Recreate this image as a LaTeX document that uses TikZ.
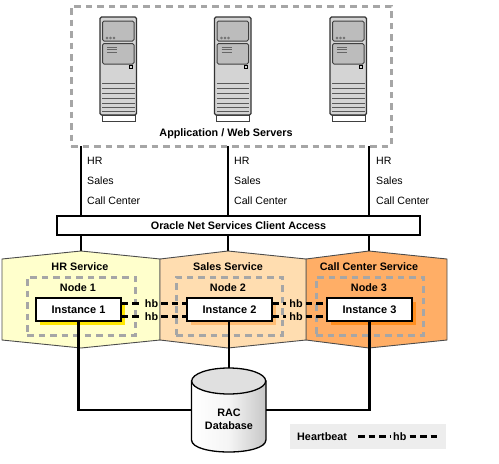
\documentclass[tikz,border=0pt]{standalone}
\usepackage{fontspec}
\setmainfont{Liberation Sans}
\definecolor{hrfill}{HTML}{FFFFCC}
\definecolor{salesfill}{HTML}{FFDDB0}
\definecolor{callfill}{HTML}{FFAE66}
\definecolor{dashgray}{HTML}{A6A6A6}
\definecolor{srvgray}{HTML}{D4D4D4}
\definecolor{srvdark}{HTML}{BCBCBC}
\definecolor{legendfill}{HTML}{EDEDED}
\tikzset{
 x=1pt,y=-1pt,
 label text/.style={font=\bfseries\fontsize{10.8}{12}\selectfont,inner sep=0pt,text=black},
 plain text/.style={font=\fontsize{10.6}{12}\selectfont,inner sep=0pt,anchor=west,text=black},
 service/.style={draw=black!70,line width=0.9pt},
 dashbox/.style={draw=dashgray,line width=3pt,dash pattern=on 6.5pt off 5pt,inner sep=0pt},
 instance/.style={draw=black,line width=1.5pt,fill=white,minimum width=85pt,minimum height=23pt,inner sep=0pt,font=\bfseries\fontsize{11}{12}\selectfont},
 conn/.style={draw=black,line width=2.2pt},
 hbline/.style={draw=black,line width=2.3pt,dash pattern=on 6.5pt off 4pt},
 hb text/.style={label text,inner sep=3pt},
 srvline/.style={draw=black!65,line width=1pt},
 pics/server/.style={code={
  \draw[draw=black!75,line width=1pt,fill=white] (2,115) rectangle (35,121);
  \draw[draw=black!80,line width=1.2pt,fill=srvgray,rounded corners=1.5pt] (0,17) rectangle (36.5,115);
  \draw[draw=black!75,line width=1pt,fill=srvdark,rounded corners=1.5pt] (2.5,21) rectangle (34,41);
  \draw[draw=black!75,line width=1pt,fill=srvdark,rounded corners=1.5pt] (2.5,43.5) rectangle (34,64);
  \foreach \cx in {7,10.5,14}{\draw[draw=black!60,line width=0.6pt] (\cx,38) circle (1pt);}
  \foreach \ly in {47,49.5,52}{\draw[black!60,line width=0.9pt] (7,\ly) -- (17,\ly);}
  \draw[draw=black,line width=1pt,fill=srvgray] (29.5,65.5) rectangle (32.5,68.5);
  \foreach \ly in {83,88,93,98,103,107,111}{\draw[srvline] (2,\ly) -- (34.5,\ly);}
 }}
}
\begin{document}
\begin{tikzpicture}
\useasboundingbox (0,0) rectangle (499,464);
% application tier
\node[dashbox,minimum width=320pt,minimum height=140pt] (app) at (231,76) {};
\foreach \sx in {100,214.5,330}{\pic at (\sx,0) {server};}
\node[label text] (applabel) at (226,134) {Application / Web Servers};
% anchors for the client connections
\coordinate (t1) at (81,146);
\coordinate (t2) at (228,146);
\coordinate (t3) at (369,146);
\coordinate (s1) at (81,251);
\coordinate (s2) at (228,251);
\coordinate (s3) at (369,251);
\draw[conn] (t1) -- (s1);
\draw[conn] (t2) -- (s2);
\draw[conn] (t3) -- (s3);
\foreach \nm/\tx in {a/87,b/234,c/376}{
 \node[plain text] (hr\nm) at (\tx,161) {HR};
 \node[plain text] (sales\nm) at (\tx,181) {Sales};
 \node[plain text] (call\nm) at (\tx,201) {Call Center};
}
\node[draw=black,line width=1.3pt,fill=white,minimum width=363pt,minimum height=19pt,inner sep=0pt,font=\bfseries\fontsize{10.8}{12}\selectfont] (net) at (238.5,225.5) {Oracle Net Services Client Access};
% services
\draw[service,fill=hrfill] (2,259) -- (s1) -- (160,259) -- (160,340) -- (81,348) -- (2,340) -- cycle;
\draw[service,fill=callfill] (306,259) -- (s3) -- (447,259) -- (447,340) -- (369,348) -- (306,340) -- cycle;
\draw[service,fill=salesfill] (160,259) -- (s2) -- (306,259) -- (306,340) -- (228,348) -- (160,340) -- cycle;
\node[label text] (hrservice) at (80,267) {HR Service};
\node[label text] (salesservice) at (228,267) {Sales Service};
\node[label text] (callservice) at (369,267) {Call Center Service};
% nodes
\node[dashbox,minimum width=108pt,minimum height=58pt] (n1) at (81,306) {};
\node[dashbox,minimum width=106pt,minimum height=58pt] (n2) at (229,306) {};
\node[dashbox,minimum width=107pt,minimum height=58pt] (n3) at (369.5,306) {};
\node[label text] (n1l) at (78,288) {Node 1};
\node[label text] (n2l) at (228,288) {Node 2};
\node[label text] (n3l) at (369,288) {Node 3};
% instance shadows
\fill[yellow!90!orange] (40,302) rectangle (125,325);
\fill[orange!35!salesfill] (191,302) rectangle (276,325);
\fill[orange!70!callfill] (331,302) rectangle (416,325);
% instances
\node[instance] (i1) at (78.5,309.5) {Instance 1};
\node[instance] (i2) at (229.5,309.5) {Instance 2};
\node[instance] (i3) at (369.5,309.5) {Instance 3};
% database anchor
\node[minimum width=74pt,minimum height=84pt,inner sep=0pt] (db) at (228.7,410) {};
\draw[conn] (i2.south -| db.north) -- (db.north);
\draw[conn] (i1.south) |- (db.west);
\draw[conn] (i3.south) |- (db.east);
% database
\draw[draw=black,line width=1.3pt,left color=white,right color=black!22,middle color=black!4]
 (db.west |- 0,381) -- (db.west |- 0,440) .. controls (192,456) and (265.5,456) .. (db.east |- 0,440) -- (db.east |- 0,381) -- cycle;
\draw[draw=black,line width=1.3pt,fill=black!12] (db.north |- 0,381) ellipse [x radius=37,y radius=13];
\node[label text,align=center,font=\bfseries\fontsize{10.8}{12.5}\selectfont] (dbl) at (229,419.5) {RAC\\Database};
% heartbeat
\node[hb text] (hb1) at (151.5,303.5) {hb};
\node[hb text] (hb2) at (151.5,316.5) {hb};
\node[hb text] (hb3) at (296,303.5) {hb};
\node[hb text] (hb4) at (296,316.5) {hb};
\draw[hbline] (i1.east |- hb1) -- (hb1.west);
\draw[hbline] (i1.east |- hb2) -- (hb2.west);
\draw[hbline] (hb1.east) -- (i2.west |- hb1);
\draw[hbline] (hb2.east) -- (i2.west |- hb2);
\draw[hbline] (i2.east |- hb3) -- (hb3.west);
\draw[hbline] (i2.east |- hb4) -- (hb4.west);
\draw[hbline] (hb3.east) -- (i3.west |- hb3);
\draw[hbline] (hb4.east) -- (i3.west |- hb4);
% legend
\node[fill=legendfill,minimum width=156pt,minimum height=25pt,inner sep=0pt] (legend) at (368,436.5) {};
\node[label text,anchor=west] (lh) at (297,436.5) {Heartbeat};
\node[hb text,anchor=west] (lhb) at (390,436.5) {hb};
\coordinate (ld1) at (358,436.5);
\coordinate (ld2) at (440,436.5);
\draw[hbline] (ld1) -- (lhb.west);
\draw[hbline] (lhb.east) -- (ld2);
\end{tikzpicture}
\end{document}
